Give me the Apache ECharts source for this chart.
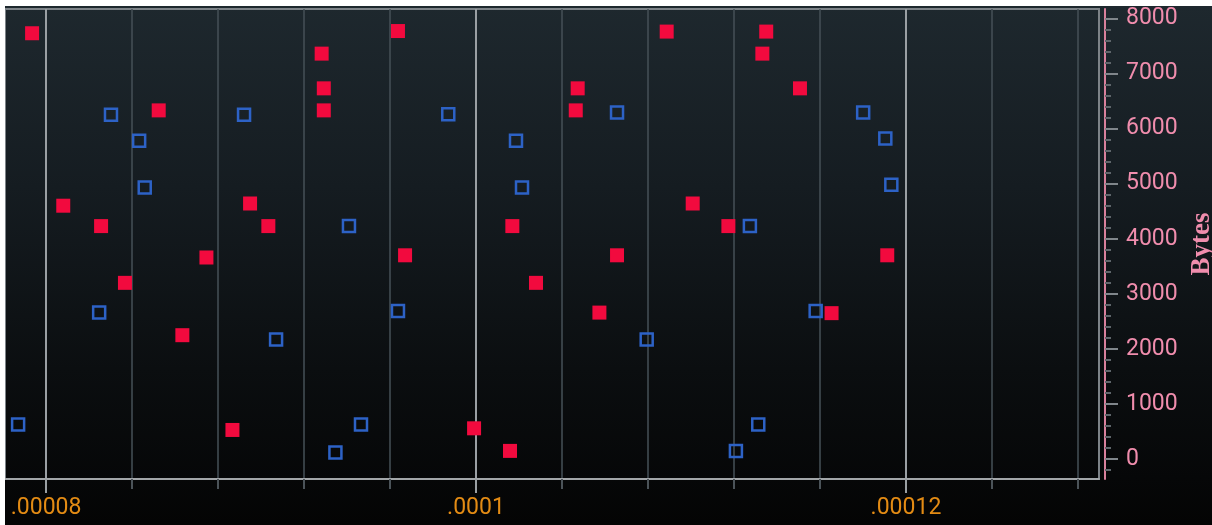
<!DOCTYPE html>
<html>
<head>
<meta charset="utf-8">
<script src="https://cdn.jsdelivr.net/npm/echarts@6/dist/echarts.min.js"></script>
<style>
  html, body { margin: 0; padding: 0; background: #ffffff; width: 1212px; height: 525px; overflow: hidden; }
  #chart {
    position: absolute; left: 5px; top: 6px; width: 1207px; height: 519px;
    background: linear-gradient(to bottom, #1e282e 0%, #151c21 35%, #0b0e10 70%, #060708 91%, #040404 100%);
  }
</style>
</head>
<body>
<div id="chart"></div>
<script>
// ---- data ----
const redX = [7.935e-5, 8.080e-5, 8.256e-5, 8.367e-5, 8.524e-5, 8.634e-5, 8.746e-5, 8.867e-5, 8.949e-5, 9.034e-5,
              9.282e-5, 9.292e-5, 9.292e-5, 9.637e-5, 9.670e-5, 9.991e-5, 1.0158e-4, 1.0169e-4, 1.0279e-4, 1.0464e-4,
              1.0473e-4, 1.0574e-4, 1.0656e-4, 1.0887e-4, 1.1008e-4, 1.1174e-4, 1.1332e-4, 1.1350e-4, 1.1507e-4, 1.1654e-4,
              1.1913e-4];
const redY = [7730, 4600, 4230, 3200, 6330, 2250, 3660, 530, 4640, 4230,
              7360, 6730, 6330, 7770, 3700, 560, 150, 4230, 3200, 6330,
              6730, 2660, 3700, 7760, 4640, 4230, 7360, 7760, 6730, 2650,
              3700];
const blueX = [7.870e-5, 8.247e-5, 8.302e-5, 8.433e-5, 8.459e-5, 8.921e-5, 9.070e-5, 9.346e-5, 9.409e-5, 9.465e-5,
               9.637e-5, 9.871e-5, 1.0186e-4, 1.0214e-4, 1.0656e-4, 1.0794e-4, 1.1209e-4, 1.1274e-4, 1.1313e-4, 1.1580e-4,
               1.1801e-4, 1.1904e-4, 1.1932e-4];
const blueY = [630, 2660, 6250, 5780, 4930, 6250, 2170, 120, 4230, 630,
               2690, 6260, 5780, 4930, 6290, 2170, 150, 4230, 630, 2690,
               6290, 5820, 4980];

// axis ticks and labels
const xMajorTicks = [0.00008, 0.0001, 0.00012];
const xMajorLabels = ['.00008', '.0001', '.00012'];
const xMinorTicks = [0.00008, 0.000084, 0.000088, 0.000092, 0.000096, 0.0001, 0.000104, 0.000108,
                     0.000112, 0.000116, 0.00012, 0.000124, 0.000128];
const yMajorTicks = [0, 1000, 2000, 3000, 4000, 5000, 6000, 7000, 8000];
const yMinorTicks = [-200, 200, 400, 600, 800, 1200, 1400, 1600, 1800, 2200, 2400, 2600, 2800,
                     3200, 3400, 3600, 3800, 4200, 4400, 4600, 4800, 5200, 5400, 5600, 5800,
                     6200, 6400, 6600, 6800, 7200, 7400, 7600, 7800];
const yAxisName = 'Bytes';

const X_MIN = 0.00007809, X_MAX = 0.00012898;
const Y_MIN = -360, Y_MAX = 8170;

const pts = (xs, ys) => xs.map((x, i) => [x, ys[i]]);

const chart = echarts.init(document.getElementById('chart'), null, { renderer: 'canvas' });
chart.setOption({
  backgroundColor: 'transparent',
  animation: false,
  grid: {
    left: 0, top: 3, right: 113, bottom: 46,
    containLabel: false, outerBoundsMode: 'none',
    show: true, borderColor: '#7d8388', borderWidth: 2, backgroundColor: 'transparent'
  },
  xAxis: [
    {
      type: 'value', position: 'bottom', min: X_MIN, max: X_MAX,
      axisLine: { show: true, onZero: false, lineStyle: { color: '#a2a6a9', width: 2 } },
      axisTick: { show: true, customValues: xMinorTicks, length: 10, lineStyle: { color: '#4b5359', width: 2 } },
      axisLabel: { show: false },
      splitLine: { show: true, lineStyle: { color: '#465057', width: 1.5 } }
    },
    {
      type: 'value', position: 'bottom', min: X_MIN, max: X_MAX,
      axisLine: { show: false, onZero: false },
      axisTick: { show: true, customValues: xMajorTicks, length: 14, lineStyle: { color: '#9a9fa3', width: 2 } },
      axisLabel: {
        show: true, customValues: xMajorTicks, margin: 18,
        color: '#e38b14', fontSize: 23, fontFamily: 'Roboto',
        formatter: function (v) {
          let best = 0;
          for (let i = 1; i < xMajorTicks.length; i++) {
            if (Math.abs(xMajorTicks[i] - v) < Math.abs(xMajorTicks[best] - v)) best = i;
          }
          return xMajorLabels[best];
        }
      },
      splitLine: { show: true, lineStyle: { color: '#9a9fa3', width: 2 } }
    }
  ],
  yAxis: [
    {
      type: 'value', position: 'right', offset: 6, min: Y_MIN, max: Y_MAX,
      axisLine: { show: true, onZero: false, lineStyle: { color: '#d9809c', width: 2 } },
      axisTick: { show: true, customValues: yMajorTicks, length: 13, lineStyle: { color: '#80868b', width: 2 } },
      axisLabel: {
        show: true, customValues: yMajorTicks, margin: 21, color: '#f08dad', fontSize: 23, fontFamily: 'Roboto',
        formatter: function (v) { return String(Math.round(v)); }
      },
      splitLine: { show: false },
      name: yAxisName, nameLocation: 'middle', nameRotate: 90, nameGap: 76,
      nameTextStyle: { color: '#f08dad', fontSize: 27, fontWeight: 'bold', fontFamily: 'Liberation Serif' }
    },
    {
      type: 'value', position: 'right', offset: 6, min: Y_MIN, max: Y_MAX,
      axisLine: { show: false, onZero: false },
      axisTick: { show: true, customValues: yMinorTicks, length: 6, lineStyle: { color: '#5f666b', width: 2 } },
      axisLabel: { show: false },
      splitLine: { show: false }
    }
  ],
  series: [
    {
      type: 'scatter', xAxisIndex: 1, yAxisIndex: 0,
      symbol: 'rect', symbolSize: 12,
      itemStyle: { color: 'rgba(0,0,0,0)', borderColor: '#2d62c6', borderWidth: 2.5, opacity: 1 },
      data: pts(blueX, blueY)
    },
    {
      type: 'scatter', xAxisIndex: 1, yAxisIndex: 0,
      symbol: 'rect', symbolSize: 14,
      itemStyle: { color: '#f20a3e', opacity: 1 },
      data: pts(redX, redY)
    }
  ]
});
</script>
</body>
</html>
